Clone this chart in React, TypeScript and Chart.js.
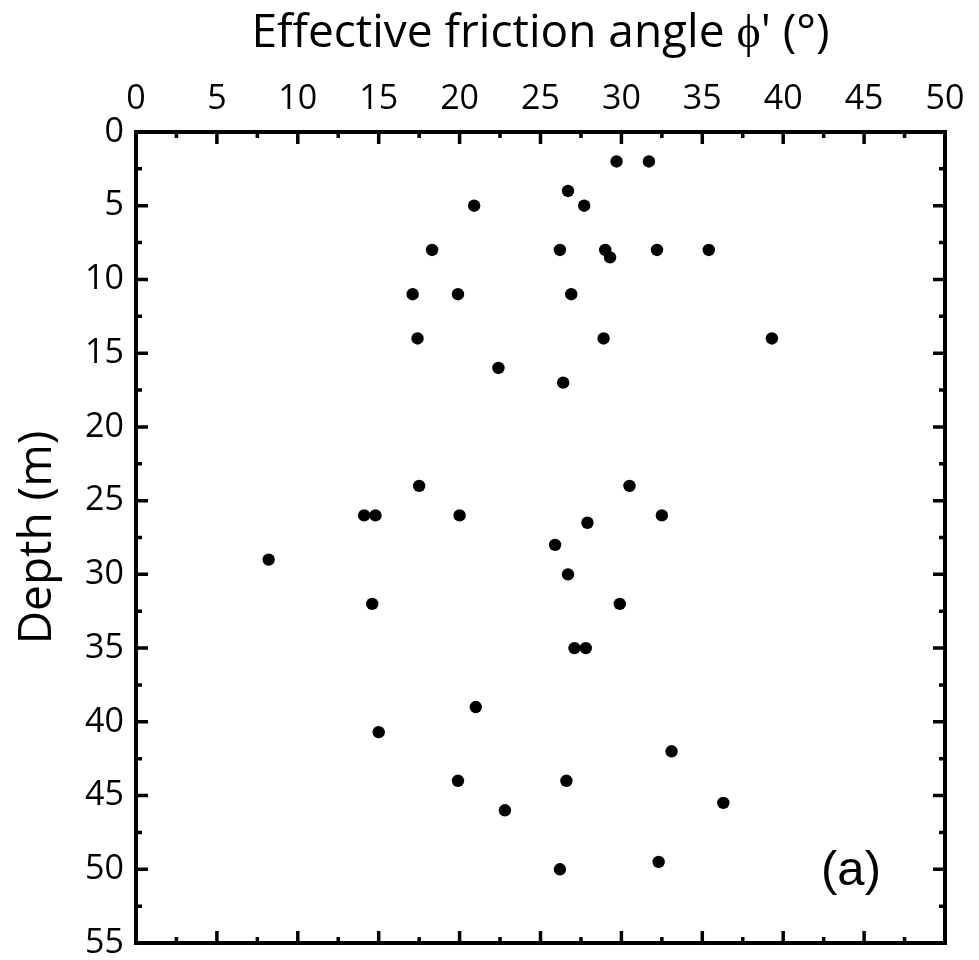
import React, { useEffect, useRef } from "react";
import { Chart, registerables } from "chart.js";

Chart.register(...registerables);

// Effective friction angle (degrees)
const frictionAngle = [
  29.7, 31.7, 26.7, 20.9, 27.7, 18.3, 26.2, 29.0, 29.3, 32.2, 35.4,
  17.1, 19.9, 26.9, 17.4, 28.9, 39.3, 22.4, 26.4, 17.5, 30.5, 14.1,
  14.8, 20.0, 32.5, 27.9, 25.9, 8.2, 26.7, 14.6, 29.9, 27.1, 27.8,
  21.0, 15.0, 33.1, 19.9, 26.6, 36.3, 22.8, 32.3, 26.2,
];
// Depth (m)
const depth = [
  2, 2, 4, 5, 5, 8, 8, 8, 8.5, 8, 8,
  11, 11, 11, 14, 14, 14, 16, 17, 24, 24, 26,
  26, 26, 26, 26.5, 28, 29, 30, 32, 32, 35, 35,
  39, 40.7, 42, 44, 44, 45.5, 46, 49.5, 50,
];

const xMin = 0;
const xMax = 50;
const yMin = 0;
const yMax = 55;
const majorStep = 5;
const minorStep = 2.5;

const xTitle = "Effective friction angle \u03D5' (\u00B0)";
const yTitle = "Depth (m)";
const panelLabel = "(a)";

const framePlugin = {
  id: "frameTicks",
  afterDraw(chart: any) {
    const { ctx, chartArea: a, scales } = chart;
    const xs = scales.x;
    const ys = scales.y;
    ctx.save();
    ctx.strokeStyle = "#000";
    ctx.lineCap = "butt";
    ctx.lineWidth = 3.5;
    const isMajor = (v: number) => Math.abs(v / majorStep - Math.round(v / majorStep)) < 1e-6;
    ctx.beginPath();
    for (let v = xMin; v <= xMax + 1e-6; v += minorStep) {
      const len = isMajor(v) ? 12 : 6;
      const px = xs.getPixelForValue(v);
      ctx.moveTo(px, a.top);
      ctx.lineTo(px, a.top + len);
      ctx.moveTo(px, a.bottom);
      ctx.lineTo(px, a.bottom - len);
    }
    for (let v = yMin; v <= yMax + 1e-6; v += minorStep) {
      const len = isMajor(v) ? 12 : 6;
      const py = ys.getPixelForValue(v);
      ctx.moveTo(a.left, py);
      ctx.lineTo(a.left + len, py);
      ctx.moveTo(a.right, py);
      ctx.lineTo(a.right - len, py);
    }
    ctx.stroke();
    ctx.lineWidth = 4;
    ctx.lineJoin = "miter";
    ctx.strokeRect(a.left, a.top, a.right - a.left, a.bottom - a.top);

    ctx.fillStyle = "#000";
    ctx.font = "49px 'Liberation Sans', Arial, sans-serif";
    ctx.textAlign = "center";
    ctx.textBaseline = "alphabetic";
    ctx.fillText(panelLabel, a.right - 94, a.bottom - 58);
    ctx.restore();
  },
};

export default function App() {
  const ref = useRef<HTMLCanvasElement | null>(null);

  useEffect(() => {
    const canvas = ref.current;
    if (!canvas) return;
    const points = frictionAngle.map((x, i) => ({ x, y: depth[i] }));
    const chart = new Chart(canvas, {
      type: "scatter",
      data: {
        datasets: [
          {
            data: points,
            backgroundColor: "#000",
            borderWidth: 0,
            pointRadius: 6.2,
            pointHoverRadius: 6.2,
          },
        ],
      },
      plugins: [framePlugin],
      options: {
        responsive: false,
        animation: false,
        events: [],
        layout: { padding: { left: 0, top: 0, right: 34, bottom: 17 } },
        plugins: {
          legend: { display: false },
          tooltip: { enabled: false },
          title: { display: false },
        },
        scales: {
          x: {
            type: "linear",
            position: "top",
            min: xMin,
            max: xMax,
            grid: { display: false, drawTicks: false },
            border: { display: false },
            ticks: {
              stepSize: majorStep,
              padding: 12,
              color: "#000",
              font: { family: "'Open Sans'", size: 34 },
            },
            title: {
              display: true,
              text: xTitle,
              color: "#000",
              font: { family: "'Open Sans'", size: 46 },
              padding: { top: 6, bottom: 0 },
            },
            afterFit(scale: any) {
              scale.height = 132;
              scale.paddingLeft = 0;
              scale.paddingRight = 0;
            },
          },
          y: {
            type: "linear",
            reverse: true,
            min: yMin,
            max: yMax,
            grid: { display: false, drawTicks: false },
            border: { display: false },
            ticks: {
              stepSize: majorStep,
              padding: 12,
              color: "#000",
              font: { family: "'Open Sans'", size: 34 },
            },
            title: {
              display: true,
              text: yTitle,
              color: "#000",
              font: { family: "'Open Sans'", size: 46 },
              padding: { top: 10, bottom: 0 },
            },
            afterFit(scale: any) {
              scale.width = 136;
              scale.paddingTop = 0;
              scale.paddingBottom = 0;
            },
          },
        },
      },
    });
    return () => chart.destroy();
  }, []);

  return (
    <div style={{ position: "absolute", left: 0, top: 0, width: 979, height: 960, background: "#fff" }}>
      <canvas ref={ref} width={979} height={960} style={{ display: "block" }} />
    </div>
  );
}
